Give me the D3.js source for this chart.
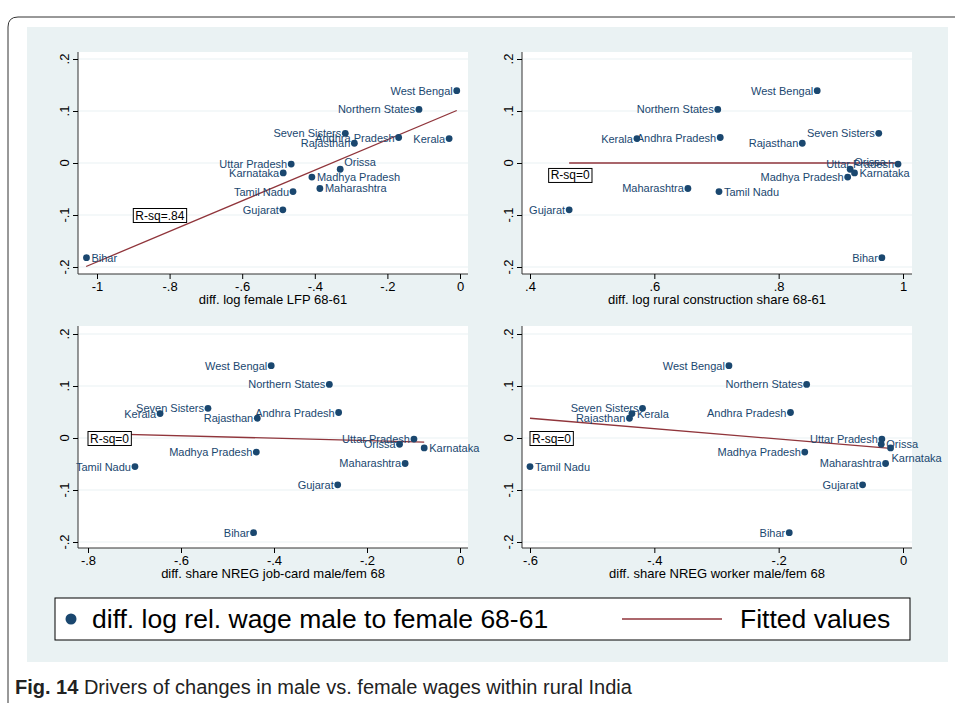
<!DOCTYPE html>
<html>
<head>
<script src="https://cdn.jsdelivr.net/npm/d3@7"></script>
<style>body{margin:0;background:#fff}text{font-family:"Liberation Sans",Arial,sans-serif}</style>
</head>
<body>
<div id="chart"></div>
<script>
var states = ["West Bengal","Northern States","Seven Sisters","Andhra Pradesh","Kerala","Rajasthan",
  "Uttar Pradesh","Orissa","Karnataka","Madhya Pradesh","Maharashtra","Tamil Nadu","Gujarat","Bihar"];
var wageDiff = [0.139,0.103,0.057,0.049,0.047,0.038,-0.002,-0.012,-0.019,-0.027,-0.049,-0.055,-0.090,-0.182];

var lfp    = [-0.009,-0.113,-0.316,-0.169,-0.030,-0.291,-0.465,-0.330,-0.487,-0.408,-0.386,-0.460,-0.488,-1.029];
var constr = [0.862,0.702,0.961,0.706,0.572,0.838,0.992,0.915,0.922,0.911,0.654,0.704,0.463,0.966];
var jobCard= [-0.406,-0.281,-0.542,-0.261,-0.645,-0.436,-0.099,-0.130,-0.077,-0.438,-0.118,-0.699,-0.263,-0.444];
var worker = [-0.280,-0.155,-0.419,-0.181,-0.436,-0.440,-0.034,-0.035,-0.020,-0.158,-0.028,-0.600,-0.065,-0.183];

// label side for each state: L left, R right, U right-up, B below
var side1 = ["L","L","L","L","L","L","L","U","L","R","R","L","L","R"];
var side2 = ["L","L","L","L","L","L","L","U","R","L","L","R","L","L"];
var side3 = ["L","L","L","L","L","L","L","L","R","L","L","L","L","L"];
var side4 = ["L","L","L","L","R","L","L","R","B","L","L","R","L","L"];

var fit1 = [[-1.03,-0.199],[-0.009,0.101]];
var fit2 = [[0.463,0],[0.992,0]];
var fit3 = [[-0.8,0.009],[-0.077,-0.008]];
var fit4 = [[-0.6,0.038],[-0.02,-0.020]];

var xTicks1 = [-1,-0.8,-0.6,-0.4,-0.2,0], xTicks2 = [0.4,0.6,0.8,1];
var xTicks3 = [-0.8,-0.6,-0.4,-0.2,0], xTicks4 = [-0.6,-0.4,-0.2,0];
var yTicks = [-0.2,-0.1,0,0.1,0.2];

var panels = [
  {x:lfp, side:side1, fit:fit1, ticks:xTicks1, dom:[-1,0], title:"diff. log female LFP 68-61", rsq:"R-sq=.84", rx:-0.9, ry:-0.1,
   L:78,R:468,T:52,B:274, x0:97,x1:460, y0:59,y1:267},
  {x:constr, side:side2, fit:fit2, ticks:xTicks2, dom:[0.4,1], title:"diff. log rural construction share 68-61", rsq:"R-sq=0", rx:0.43, ry:-0.023,
   L:522,R:912,T:52,B:274, x0:530,x1:903, y0:59,y1:267},
  {x:jobCard, side:side3, fit:fit3, ticks:xTicks3, dom:[-0.8,0], title:"diff. share NREG job-card male/fem 68", rsq:"R-sq=0", rx:-0.8, ry:0,
   L:78,R:468,T:326,B:548, x0:88,x1:460, y0:334,y1:542},
  {x:worker, side:side4, fit:fit4, ticks:xTicks4, dom:[-0.6,0], title:"diff. share NREG worker male/fem 68", rsq:"R-sq=0", rx:-0.6, ry:0,
   L:522,R:912,T:326,B:548, x0:530,x1:903, y0:334,y1:542}
];

var navy = "#1a476f", red = "#90353b";
var svg = d3.select("#chart").append("svg").attr("width",955).attr("height",703);

svg.append("path").attr("d","M8,703 V27 Q8,17 18,17 H955").attr("fill","none").attr("stroke","#333").attr("stroke-width",1);
svg.append("rect").attr("x",27).attr("y",27).attr("width",921).attr("height",635).attr("fill","#eaf2f3");

function fmt(v){ if (v===0) return "0"; var s = String(Math.round(v*10)/10); return s.replace("0.","."); }

panels.forEach(function(p){
  var g = svg.append("g");
  var x = d3.scaleLinear().domain(p.dom).range([p.x0,p.x1]);
  var y = d3.scaleLinear().domain([0.2,-0.2]).range([p.y0,p.y1]);
  g.append("rect").attr("x",p.L).attr("y",p.T).attr("width",p.R-p.L).attr("height",p.B-p.T).attr("fill","#fff");
  g.selectAll(".grid").data(yTicks).enter().append("line")
    .attr("x1",p.L).attr("x2",p.R).attr("y1",y).attr("y2",y).attr("stroke","#eaf2f3").attr("stroke-width",1.2);

  var xa = g.append("g").attr("transform","translate(0,"+p.B+")")
    .call(d3.axisBottom(x).tickValues(p.ticks).tickFormat(fmt).tickSize(5).tickSizeOuter(0));
  xa.select(".domain").attr("d","M"+p.L+",0H"+p.R).attr("stroke","#333");
  xa.selectAll("text").attr("font-size",13).attr("fill","#000").attr("y",8);
  var ya = g.append("g").attr("transform","translate("+p.L+",0)")
    .call(d3.axisLeft(y).tickValues(yTicks).tickFormat("").tickSize(5).tickSizeOuter(0));
  ya.select(".domain").attr("d","M0,"+p.T+"V"+p.B).attr("stroke","#333");
  g.selectAll(".ylab").data(yTicks).enter().append("text")
    .attr("transform",function(d){ return "translate("+(p.L-9)+","+y(d)+") rotate(-90)"; })
    .attr("text-anchor","middle").attr("font-size",13).text(fmt);

  g.append("text").attr("x",(p.L+p.R)/2).attr("y",p.B+30).attr("text-anchor","middle")
    .attr("font-size",13).text(p.title);

  g.append("line").attr("x1",x(p.fit[0][0])).attr("y1",y(p.fit[0][1]))
    .attr("x2",x(p.fit[1][0])).attr("y2",y(p.fit[1][1])).attr("stroke",red).attr("stroke-width",1.3);

  var box = g.append("rect").attr("fill","#fff").attr("stroke","#000");
  var rt = g.append("text").attr("x",x(p.rx)+2).attr("y",y(p.ry)+4.5).attr("font-size",12).text(p.rsq);
  var bb = rt.node().getBBox();
  box.attr("x",bb.x-2).attr("y",bb.y).attr("width",bb.width+4).attr("height",bb.height);

  states.forEach(function(s,i){
    var cx = x(p.x[i]), cy = y(wageDiff[i]), sd = p.side[i];
    g.append("circle").attr("cx",cx).attr("cy",cy).attr("r",3.4).attr("fill",navy);
    var t = g.append("text").attr("font-size",11).attr("fill",navy).text(s);
    if (sd==="L") t.attr("x",cx-4).attr("y",cy+4).attr("text-anchor","end");
    else if (sd==="R") t.attr("x",cx+5).attr("y",cy+4);
    else if (sd==="U") t.attr("x",cx+4).attr("y",cy-3);
    else t.attr("x",cx+26).attr("y",cy+14).attr("text-anchor","middle");
  });
});

var lg = svg.append("g");
lg.append("rect").attr("x",55).attr("y",598).attr("width",855).attr("height",42).attr("fill","#fff").attr("stroke","#000");
lg.append("circle").attr("cx",71).attr("cy",619).attr("r",5.5).attr("fill",navy);
lg.append("text").attr("x",92).attr("y",628).attr("font-size",26.5).text("diff. log rel. wage male to female 68-61");
lg.append("line").attr("x1",622).attr("x2",722).attr("y1",619).attr("y2",619).attr("stroke",red).attr("stroke-width",1.5);
lg.append("text").attr("x",740).attr("y",628).attr("font-size",26.5).text("Fitted values");

var cap = svg.append("text").attr("x",15).attr("y",694).attr("font-size",20).attr("font-family","'Open Sans',sans-serif").attr("fill","#222");
cap.append("tspan").attr("font-weight","bold").text("Fig. 14");
cap.append("tspan").text(" Drivers of changes in male vs. female wages within rural India");
</script>
</body>
</html>
